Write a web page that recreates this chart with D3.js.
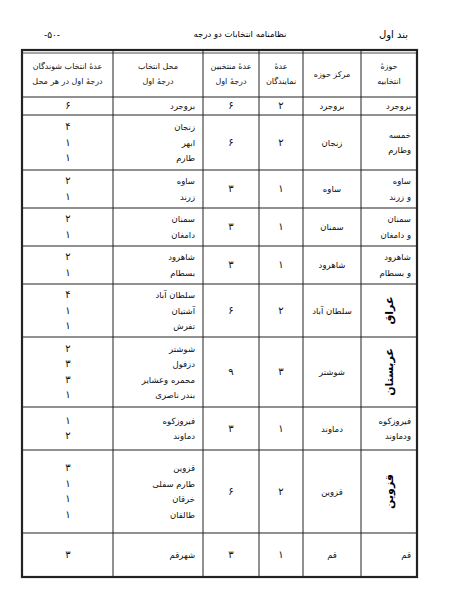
<!DOCTYPE html>
<html><head><meta charset="utf-8">
<script src="https://cdn.jsdelivr.net/npm/d3@7"></script>
<style>body{margin:0;background:#fff}</style>
</head><body>
<svg id="page" width="463" height="599"></svg>
<script>
const headers = [
  ["حوزهٔ", "انتخابیه"], ["مرکز حوزه"], ["عدهٔ", "نمایندگان"],
  ["عدهٔ منتخبین", "درجهٔ اول"], ["محل انتخاب", "درجهٔ اول"],
  ["عدهٔ انتخاب شوندگان", "درجهٔ اول در هر محل"]
];
const districts = [["بروجرد"], ["خمسه", "وطارم"], ["ساوه", "و زرند"], ["سمنان", "و دامغان"],
  ["شاهرود", "و بسطام"], ["عراق"], ["عربستان"], ["فیروزکوه", "ودماوند"], ["قزوین"], ["قم"]];
const rotated = [false, false, false, false, false, true, true, false, true, false];
const centers = ["بروجرد", "زنجان", "ساوه", "سمنان", "شاهرود", "سلطان آباد", "شوشتر", "دماوند", "قزوین", "قم"];
const representatives = [2, 2, 1, 1, 1, 2, 3, 1, 2, 1];
const electors = [6, 6, 3, 3, 3, 6, 9, 3, 6, 3];
const places = [["بروجرد"], ["زنجان", "ابهر", "طارم"], ["ساوه", "زرند"], ["سمنان", "دامغان"],
  ["شاهرود", "بسطام"], ["سلطان آباد", "آشتیان", "تفرش"], ["شوشتر", "دزفول", "محمره وعشایر", "بندر ناصری"],
  ["فیروزکوه", "دماوند"], ["قزوین", "طارم سفلی", "خرقان", "طالقان"], ["شهرقم"]];
const placeCounts = [[6], [4, 1, 1], [2, 1], [2, 1], [2, 1], [4, 1, 1], [2, 3, 3, 1], [1, 2], [3, 1, 1, 1], [3]];
const rowHeights = [18, 55, 38, 38, 38, 53, 70, 43, 83, 44];

const fa = n => String(n).replace(/\d/g, d => "۰۱۲۳۴۵۶۷۸۹"[d]);
const font = "DejaVu Sans, Noto Sans, sans-serif";
const svg = d3.select("#page");

// columns right to left
const colEdges = [417, 361, 303, 259, 203, 113, 22];
const tableTop = 50, headerBottom = 97;
const yEdges = [headerBottom];
rowHeights.forEach(h => yEdges.push(yEdges[yEdges.length - 1] + h));
const tableBottom = yEdges[yEdges.length - 1];

svg.append("text").attr("x", 408).attr("y", 38).attr("text-anchor", "end")
  .attr("font-family", font).attr("font-size", 10).text("بند اول");
svg.append("text").attr("x", 240).attr("y", 37).attr("text-anchor", "middle")
  .attr("font-family", font).attr("font-size", 8.5).text("نظامنامه انتخابات دو درجه");
svg.append("text").attr("x", 52).attr("y", 38).attr("text-anchor", "middle")
  .attr("font-family", font).attr("font-size", 9).attr("direction", "ltr").text("-۵۰-");

const g = svg.append("g").attr("stroke", "#222").attr("fill", "none");
g.append("rect").attr("x", 22).attr("y", tableTop).attr("width", 395).attr("height", tableBottom - tableTop)
  .attr("stroke-width", 2.2);
g.append("line").attr("x1", 22).attr("x2", 417).attr("y1", tableTop + 3).attr("y2", tableTop + 3).attr("stroke-width", 0.8);
colEdges.slice(1, -1).forEach(x => g.append("line").attr("x1", x).attr("x2", x)
  .attr("y1", tableTop).attr("y2", tableBottom).attr("stroke-width", 1));
yEdges.slice(0, -1).forEach(y => g.append("line").attr("x1", 22).attr("x2", 417)
  .attr("y1", y).attr("y2", y).attr("stroke-width", 1));

const colMid = i => (colEdges[i] + colEdges[i + 1]) / 2;
const txt = (x, y, s, anchor = "middle", size = 8.5) => svg.append("text").attr("x", x).attr("y", y)
  .attr("text-anchor", anchor).attr("font-family", font).attr("font-size", size).attr("fill", "#111").text(s);

headers.forEach((lines, i) => {
  const mid = (tableTop + headerBottom) / 2;
  lines.forEach((l, j) => txt(colMid(i), mid + (j - (lines.length - 1) / 2) * 15 + 3, l, "middle", 8));
});

const lineGap = 15.5;
districts.forEach((d, r) => {
  const mid = (yEdges[r] + yEdges[r + 1]) / 2;
  if (rotated[r]) {
    svg.append("text").attr("transform", `translate(${colMid(0)},${mid}) rotate(-90)`)
      .attr("text-anchor", "middle").attr("dy", 4).attr("font-family", font).attr("font-size", 11)
      .attr("font-weight", "bold").text(d[0]);
  } else {
    d.forEach((l, j) => txt(colEdges[0] - 6, mid + (j - (d.length - 1) / 2) * lineGap + 3, l, "end", 8.5));
  }
  txt(colMid(1), mid + 3, centers[r], "middle", 8.5);
  txt(colMid(2), mid + 3, fa(representatives[r]), "middle", 10);
  txt(colMid(3), mid + 3, fa(electors[r]), "middle", 10);
  const p = places[r];
  p.forEach((l, j) => txt(colEdges[4] - 8, mid + (j - (p.length - 1) / 2) * lineGap + 3, l, "end", 8.5));
  const c = placeCounts[r];
  c.forEach((v, j) => txt(68, mid + (j - (c.length - 1) / 2) * lineGap + 3, fa(v), "middle", 10));
});
</script>
</body></html>
